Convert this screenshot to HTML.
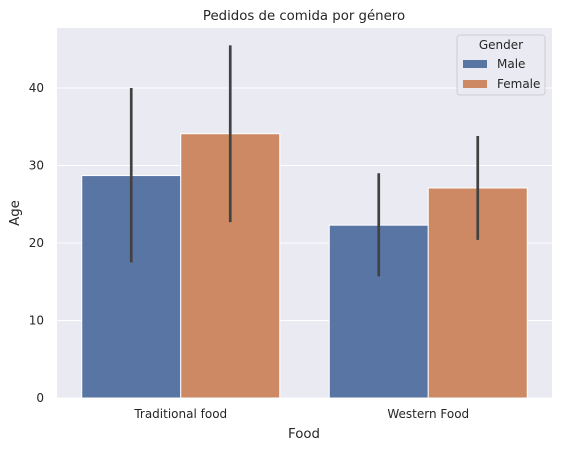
<!DOCTYPE html>
<html><head><meta charset="utf-8"><style>
body{margin:0;background:#fff;font-family:"DejaVu Sans","Liberation Sans",sans-serif;}
svg text{font-family:"DejaVu Sans","Liberation Sans",sans-serif;fill:#262626;}
</style></head><body>
<svg id="chart" width="561" height="451" xmlns="http://www.w3.org/2000/svg">
<rect x="57" y="28" width="495" height="370" fill="#eaeaf2"/>
<g id="grid"></g><g id="bars"></g><g id="ticks"></g>
<text x="304" y="20" font-size="13.3" text-anchor="middle">Pedidos de comida por género</text>
<text x="304" y="438" font-size="13.3" text-anchor="middle">Food</text>
<text x="19" y="213" font-size="13.3" text-anchor="middle" transform="rotate(-90 19 213)">Age</text>
<g>
<rect x="457" y="35" width="88" height="60" rx="3" fill="#eaeaf2" stroke="#cccccc" opacity="0.9"/>
<text x="501" y="49" font-size="12" text-anchor="middle">Gender</text>
<rect x="463" y="60" width="24" height="8" fill="#5875a4"/>
<text x="497" y="68" font-size="12">Male</text>
<rect x="463" y="80" width="24" height="8" fill="#cc8963"/>
<text x="497" y="88" font-size="12">Female</text>
</g>
</svg>
<script>
const categories=["Traditional food","Western Food"];
const maleValues=[28.7,22.3];
const femaleValues=[34.1,27.1];
const maleLow=[17.5,15.7], maleHigh=[40.0,29.0];
const femaleLow=[22.7,20.4], femaleHigh=[45.5,33.8];
const yTicks=[0,10,20,30,40];
const NS="http://www.w3.org/2000/svg";
const y=v=>398-v*7.75;
const x=i=>57+(i+0.5)*247.5;
function mk(t,a,p){const e=document.createElementNS(NS,t);for(const k in a)e.setAttribute(k,a[k]);p.appendChild(e);return e;}
const grid=document.getElementById('grid'),bars=document.getElementById('bars'),ticks=document.getElementById('ticks');
yTicks.forEach(v=>{
 const l=mk('line',{x1:57,x2:552,y1:y(v),y2:y(v),stroke:'#fff','stroke-width':1},grid);
 
 
 const t=mk('text',{x:44,y:y(v)+4,'font-size':12,'text-anchor':'end'},ticks);t.textContent=v;
 
 
});
categories.forEach((c,i)=>{
 const t=mk('text',{x:x(i),y:418,'font-size':12,'text-anchor':'middle'},ticks);t.textContent=c;
 
 
 [[maleValues,maleLow,maleHigh,'#5875a4',-1,'male'],[femaleValues,femaleLow,femaleHigh,'#cc8963',0,'female']].forEach(s=>{
  const bx=x(i)+s[4]*99;
  const r=mk('rect',{x:bx,y:y(s[0][i]),width:99,height:y(0)-y(s[0][i]),fill:s[3],stroke:'#fff','stroke-width':1},bars);
  
  
  const e=mk('line',{x1:bx+49.5,x2:bx+49.5,y1:y(s[1][i]),y2:y(s[2][i]),stroke:'#424242','stroke-width':2.7},bars);
  
  
 });
});
</script>
</body></html>
